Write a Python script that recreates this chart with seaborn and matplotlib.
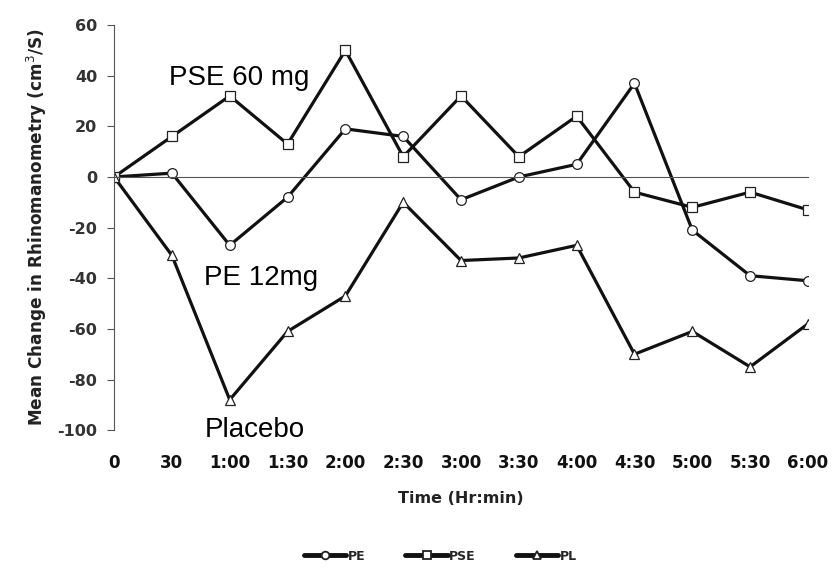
import numpy as np
import pandas as pd
import seaborn as sns
import matplotlib.pyplot as plt

# time points and mean change values
times = ['0', '30', '1:00', '1:30', '2:00', '2:30', '3:00', '3:30', '4:00', '4:30', '5:00', '5:30', '6:00']
pe = [0, 1.5, -27, -8, 19, 16, -9, 0, 5, 37, -21, -39, -41]
pse = [0, 16, 32, 13, 50, 8, 32, 8, 24, -6, -12, -6, -13]
pl = [0, -31, -88, -61, -47, -10, -33, -32, -27, -70, -61, -75, -58]
series_names = ['PE', 'PSE', 'PL']
y_ticks = [-100, -80, -60, -40, -20, 0, 20, 40, 60]

idx = np.arange(len(times))
df = pd.DataFrame({
    'idx': np.tile(idx, 3),
    'value': pe + pse + pl,
    'group': np.repeat(series_names, len(times)),
})

sns.set_style('white')
plt.rcParams['font.family'] = ['DejaVu Sans']

fig = plt.figure(figsize=(8.39, 5.69), dpi=100)
ax = fig.add_axes([0.136, 0.244, 0.827, 0.712])

sns.lineplot(data=df, x='idx', y='value', hue='group', style='group',
             hue_order=series_names, style_order=series_names,
             palette=['#111111'] * 3, markers={'PE': 'o', 'PSE': 's', 'PL': '^'},
             dashes=False, linewidth=2.3, markersize=7,
             markerfacecolor='white', markeredgecolor='#222222', markeredgewidth=0.9,
             ax=ax, legend=True)

ax.set_xlim(0, len(times) - 1)
ax.set_ylim(-100, 60)
ax.set_yticks(y_ticks)
ax.set_yticklabels([str(t) for t in y_ticks], fontsize=11.5, fontweight='bold', color='#333333')

# x axis line at zero with upward ticks, labels drawn at the bottom
ax.spines['bottom'].set_position(('data', 0))
ax.spines['bottom'].set_color('#555555')
ax.spines['left'].set_color('#555555')
ax.spines['top'].set_visible(False)
ax.spines['right'].set_visible(False)
ax.set_xticks(idx)
ax.tick_params(axis='x', direction='in', length=5, color='#555555', labelbottom=False)
ax.tick_params(axis='y', direction='out', length=5, pad=7, color='#555555', left=True)

sec = ax.secondary_xaxis('bottom')
sec.spines['bottom'].set_visible(False)
sec.set_xticks(idx)
sec.set_xticklabels(times, fontsize=12, fontweight='bold', color='#111111')
sec.tick_params(axis='x', length=0, pad=17)
sec.set_xlabel('Time (Hr:min)', fontsize=11.5, fontweight='bold', color='#222222', labelpad=14)

ax.set_xlabel('')
ax.set_ylabel('Mean Change in Rhinomanometry (cm$^3$/S)', fontsize=12.2,
              fontweight='bold', color='#222222', labelpad=6)

# series annotations
ax.text(2.16, 39, 'PSE 60 mg', fontsize=20, family='Liberation Sans', color='black', ha='center', va='center')
ax.text(2.55, -40, 'PE 12mg', fontsize=20, family='Liberation Sans', color='black', ha='center', va='center')
ax.text(2.44, -100, 'Placebo', fontsize=20, family='Liberation Sans', color='black', ha='center', va='center')

handles, labels = ax.get_legend_handles_labels()
leg = ax.legend(handles, labels, loc='center', bbox_to_anchor=(0.47, -0.311),
                ncol=3, frameon=False, handlelength=3.4, columnspacing=3.2,
                handletextpad=0.1, prop={'weight': 'bold', 'size': 9})
for h in leg.legend_handles:
    h.set_linewidth(3.5)
    h.set_markersize(5.5)
    h.set_markeredgewidth(1.3)

fig.savefig('out.png', dpi=100)
